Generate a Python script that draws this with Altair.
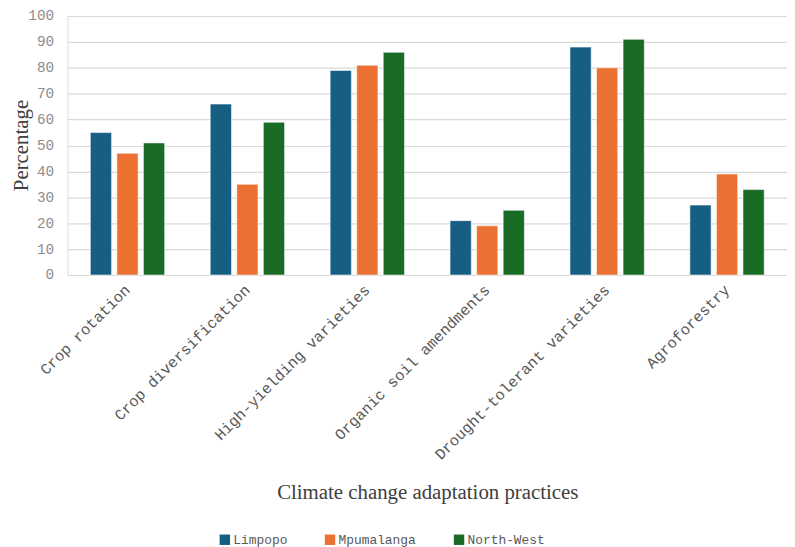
import altair as alt
import pandas as pd

practices = ["Crop rotation", "Crop diversification", "High-yielding varieties",
             "Organic soil amendments", "Drought-tolerant varieties", "Agroforestry"]
regions = ["Limpopo", "Mpumalanga", "North-West"]
limpopo = [55, 66, 79, 21, 88, 27]
mpumalanga = [47, 35, 81, 19, 80, 39]
north_west = [51, 59, 86, 25, 91, 33]
colors = ["#175E83", "#EA7131", "#1A6B25"]
y_ticks = [0, 10, 20, 30, 40, 50, 60, 70, 80, 90, 100]

rows = []
for reg, vals in zip(regions, [limpopo, mpumalanga, north_west]):
    for p, v in zip(practices, vals):
        rows.append({"Practice": p, "Region": reg, "Value": v})
df = pd.DataFrame(rows)

mono = "Liberation Mono"
serif = "Liberation Serif"

chart = alt.Chart(df).mark_bar(stroke="#ffffff", strokeWidth=0.8, strokeOpacity=0.7).encode(
    x=alt.X("Practice:N", sort=practices,
            scale=alt.Scale(paddingInner=0.38, paddingOuter=0.19),
            axis=alt.Axis(title="Climate change adaptation practices", labelAngle=-45,
                          labelAlign="right", labelBaseline="middle", labelLimit=0,
                          labelFont=mono, labelFontSize=15.5, labelColor="#595959",
                          labelPadding=12, domain=False, ticks=False,
                          titleFont=serif, titleFontSize=21, titleFontWeight="normal",
                          titleColor="#404040", titleY=225, titleBaseline="alphabetic")),
    xOffset=alt.XOffset("Region:N", sort=regions, scale=alt.Scale(paddingInner=0.2)),
    y=alt.Y("Value:Q", scale=alt.Scale(domain=[0, 100], nice=False),
            axis=alt.Axis(title="Percentage", values=y_ticks, labelFont=mono,
                          labelFontSize=14.5, labelColor="#8c8c8c", labelPadding=14,
                          domain=False, ticks=False, gridColor="#d9d9d9", gridWidth=1.2,
                          titleFont=serif, titleFontSize=21, titleFontWeight="normal",
                          titleColor="#404040", titleX=-46, titleY=130,
                          titleBaseline="middle")),
    color=alt.Color("Region:N", sort=regions,
                    scale=alt.Scale(domain=regions, range=colors),
                    legend=alt.Legend(title=None, orient="none", direction="horizontal",
                                      legendX=152, legendY=521, symbolType="square",
                                      symbolSize=110, symbolStrokeWidth=0,
                                      labelFont=mono, labelFontSize=13,
                                      labelColor="#595959", columnPadding=36,
                                      labelOffset=2)),
).properties(
    width=725, height=261,
    autosize=alt.AutoSizeParams(type="none"),
    padding={"left": 60, "top": 6, "right": 0, "bottom": 272},
).configure_view(stroke=None).configure(background="#ffffff")

chart.save("out.html", embed_options={"renderer": "svg", "actions": False})
